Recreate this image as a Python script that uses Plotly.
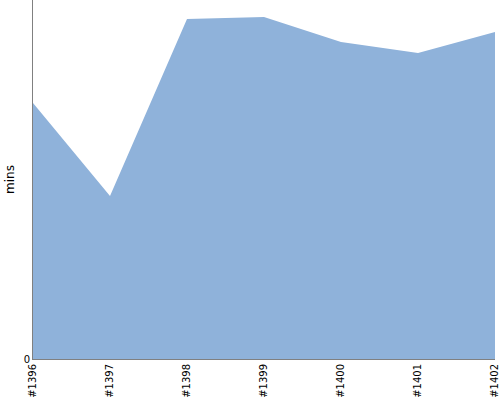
import plotly.graph_objects as go

builds = ["#1396", "#1397", "#1398", "#1399", "#1400", "#1401", "#1402"]
minutes = [25.6, 16.3, 34.0, 34.2, 31.7, 30.6, 32.7]
y_max = 35.9

fig = go.Figure()
fig.add_trace(go.Scatter(
    x=builds, y=minutes, mode="lines", fill="tozeroy",
    line=dict(width=0, color="#8fb2da"), fillcolor="#8fb2da",
    hoverinfo="x+y",
))
fig.update_layout(
    width=500, height=400,
    margin=dict(l=33, r=5, t=0, b=41, autoexpand=False),
    paper_bgcolor="white", plot_bgcolor="white",
    showlegend=False,
    font=dict(family="DejaVu Sans", size=10, color="#000000"),
    xaxis=dict(
        type="category", range=[0, len(builds) - 1],
        tickangle=-90, showgrid=False, zeroline=False,
        showline=True, linecolor="#808080", linewidth=1,
        ticks="", tickfont=dict(size=10), automargin=False,
        ticklabelstandoff=0,
    ),
    yaxis=dict(
        range=[0, y_max], tickvals=[0], ticktext=["0"],
        showgrid=False, zeroline=False,
        showline=True, linecolor="#808080", linewidth=1,
        ticks="", tickfont=dict(size=10), automargin=False,
        title=dict(text="mins", font=dict(size=12), standoff=6),
    ),
)
fig.write_html(
    "out.html",
    config={"displayModeBar": False},
    post_script="document.body.style.margin='0';document.body.style.overflow='hidden';",
)
